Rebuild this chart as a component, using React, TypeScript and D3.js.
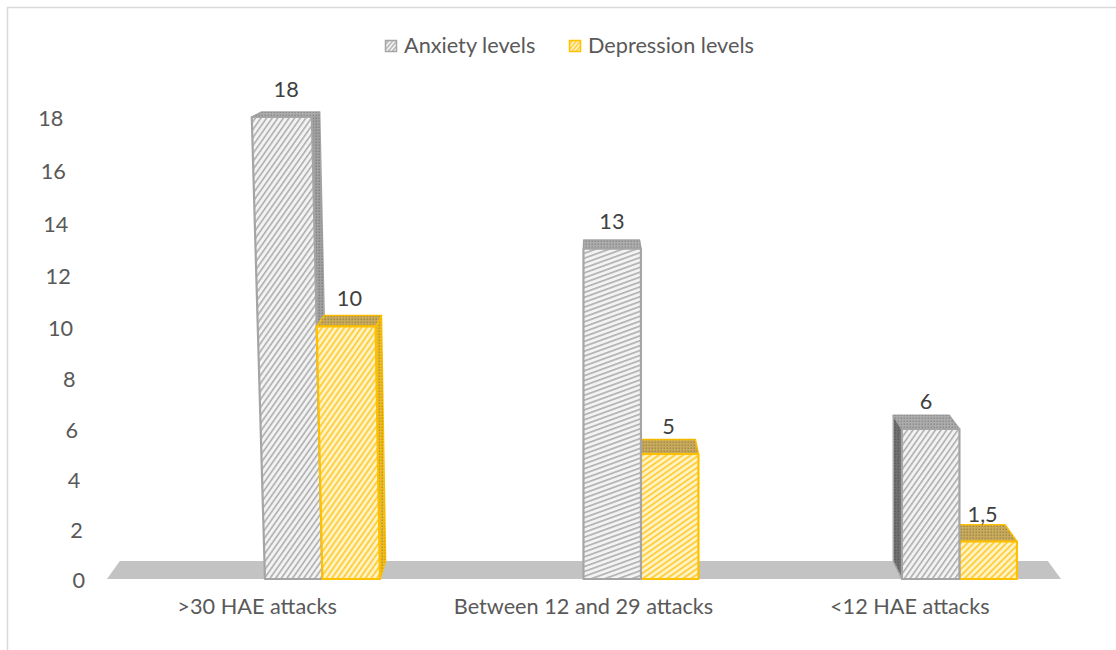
import React from 'react';
import * as d3 from 'd3';

// ---------- data ----------
const categories = ['>30 HAE attacks', 'Between 12 and 29 attacks', '<12 HAE attacks'];
const seriesNames = ['Anxiety levels', 'Depression levels'];
const anxietyValues = [18, 13, 6];
const depressionValues = [10, 5, 1.5];
const yTicks = [0, 2, 4, 6, 8, 10, 12, 14, 16, 18];

// ---------- style ----------
const W = 1116;
const H = 650;
const BASE = 579;
const VP = { x: 592, y: -60 };
const DEPTH = 0.028;
const FONT = "Lato, 'Open Sans', sans-serif";
const FS = 21.7;
const TEXT = '#595959';
const seriesStyle = [
  { border: '#a5a5a5', bg: '#f3f3f3', stripe: '#b2b2b2', top: '#acacac', right: '#a0a0a0', left: '#707070' },
  { border: '#ffc000', bg: '#fff2c4', stripe: '#ffcc33', top: '#c8aa5c', right: '#e9bb2a', left: '#b98f10' },
];
// hatch rotation per category, per series
const hatchAngles = [[35, 35], [70, 55], [35, 45]];

const locale = d3.formatLocale({ decimal: ',', thousands: '.', grouping: [3], currency: ['', ''] });
const fmt = locale.format('~g');

const yScale = d3.scaleLinear().domain([0, 6, 12, 18]).range([BASE, 429, 275, 117]);
const xGroup = d3.scaleBand<string>().domain(categories).range([163.2, 1118.7]).paddingInner(0.639).paddingOuter(0.3195);
const xSeries = d3.scaleBand<string>().domain(seriesNames).range([0, xGroup.bandwidth()]);
const floorScale = d3.scaleBand<string>().domain(categories).range([107, 1061]);
const labelScale = d3.scaleBand<string>().domain(categories).range([94, 1073]);
const leanScale = d3.scaleLinear().domain([75, 290, 560]).range([0.048, 0.026, 0]).clamp(true);

function P(x: number, y: number, z: number): [number, number] {
  const s = 1 - z;
  let sx = VP.x + (x - VP.x) * s;
  const sy = VP.y + (y - VP.y) * s;
  sx -= leanScale(sx) * (BASE - sy);
  return [sx, sy];
}
const poly = (pts: [number, number][]) => pts.map((p) => p[0].toFixed(2) + ',' + p[1].toFixed(2)).join(' ');

export default function App() {
  const values = [anxietyValues, depressionValues];
  const bars: any[] = [];
  categories.forEach((c, ci) => {
    seriesNames.forEach((s, si) => {
      const v = values[si][ci];
      const x0 = (xGroup(c) as number) + (xSeries(s) as number);
      const x1 = x0 + xSeries.bandwidth();
      bars.push({ c, ci, s, si, v, x0, x1, yt: yScale(v) });
    });
  });
  const order = [...bars].sort(
    (a, b) => Math.abs((b.x0 + b.x1) / 2 - VP.x) - Math.abs((a.x0 + a.x1) / 2 - VP.x)
  );

  const fl0 = floorScale.range()[0];
  const fl1 = floorScale.range()[1];
  const floorPts = [P(fl0, BASE, 0), P(fl1, BASE, 0), P(fl1, BASE, DEPTH), P(fl0, BASE, DEPTH)];

  return (
    <svg width={W} height={H} style={{ position: 'absolute', left: 0, top: 0, display: 'block', background: '#fff' }}>
      <defs>
        {categories.map((c, ci) =>
          seriesNames.map((s, si) => (
            <pattern
              key={`h${ci}${si}`}
              id={`hatch-${ci}-${si}`}
              patternUnits="userSpaceOnUse"
              width={4.6}
              height={10}
              patternTransform={`rotate(${hatchAngles[ci][si]})`}
            >
              <rect width={4.6} height={10} fill={seriesStyle[si].bg} />
              <rect width={1.7} height={10} fill={seriesStyle[si].stripe} />
            </pattern>
          ))
        )}
        {seriesNames.map((s, si) => (
          <pattern key={`l${si}`} id={`leg-${si}`} patternUnits="userSpaceOnUse" width={3.2} height={10} patternTransform="rotate(40)">
            <rect width={3.2} height={10} fill={seriesStyle[si].bg} />
            <rect width={1.4} height={10} fill={seriesStyle[si].stripe} />
          </pattern>
        ))}
        <pattern id="dots" patternUnits="userSpaceOnUse" width={3} height={3}>
          <rect x={0.6} y={0.6} width={1.2} height={1.2} fill="rgba(0,0,0,0.28)" />
        </pattern>
      </defs>

      {/* chart frame */}
      <rect x={7.5} y={7.5} width={1300} height={800} fill="none" stroke="#d9d9d9" strokeWidth={1.5} />

      {/* floor */}
      <polygon points={poly(floorPts)} fill="#c3c3c3" />

      {/* bars */}
      {order.map((b) => {
        const st = seriesStyle[b.si];
        const { x0, x1, yt } = b;
        const front = [P(x0, BASE, 0), P(x1, BASE, 0), P(x1, yt, 0), P(x0, yt, 0)];
        const top = [P(x0, yt, 0), P(x1, yt, 0), P(x1, yt, DEPTH), P(x0, yt, DEPTH)];
        let side: [number, number][] | null = null;
        let sideFill = st.right;
        if (x1 < VP.x) {
          side = [P(x1, BASE, 0), P(x1, yt, 0), P(x1, yt, DEPTH), P(x1, BASE, DEPTH)];
          sideFill = st.right;
        } else if (x0 > VP.x) {
          side = [P(x0, BASE, 0), P(x0, yt, 0), P(x0, yt, DEPTH), P(x0, BASE, DEPTH)];
          sideFill = st.left;
        }
        return (
          <g key={`${b.ci}-${b.si}`}>
            {side && (
              <g>
                <polygon points={poly(side)} fill={sideFill} stroke={st.border} strokeWidth={1.5} strokeLinejoin="round" />
                <polygon points={poly(side)} fill="url(#dots)" />
              </g>
            )}
            <polygon points={poly(top)} fill={st.top} stroke={st.border} strokeWidth={1.5} strokeLinejoin="round" />
            <polygon points={poly(top)} fill="url(#dots)" />
            <polygon
              points={poly(front)}
              fill={`url(#hatch-${b.ci}-${b.si})`}
              stroke={st.border}
              strokeWidth={2.2}
              strokeLinejoin="round"
            />
          </g>
        );
      })}

      {/* data labels */}
      {bars.map((b) => {
        const p = P((b.x0 + b.x1) / 2, b.yt, DEPTH / 2);
        return (
          <text key={`dl${b.ci}${b.si}`} x={p[0]} y={b.yt - 20} textAnchor="middle" fontFamily={FONT} fontSize={FS} fill="#404040">
            {fmt(b.v)}
          </text>
        );
      })}

      {/* y axis labels */}
      {yTicks.map((t) => {
        const y = yScale(t) + 1.5;
        const x = 85 - leanScale(85) * (BASE - y);
        return (
          <text key={`yt${t}`} x={x} y={y} dy="0.36em" textAnchor="end" fontFamily={FONT} fontSize={FS} fill={TEXT}>
            {t}
          </text>
        );
      })}

      {/* category labels */}
      {categories.map((c) => (
        <text
          key={`cl${c}`}
          x={(labelScale(c) as number) + labelScale.bandwidth() / 2}
          y={614}
          textAnchor="middle"
          fontFamily={FONT}
          fontSize={FS}
          fill={TEXT}
        >
          {c}
        </text>
      ))}

      {/* legend */}
      {seriesNames.map((s, si) => {
        const lx = [385, 569][si];
        return (
          <g key={`lg${si}`}>
            <rect x={lx + 0.5} y={40.5} width={11} height={11} fill={`url(#leg-${si})`} stroke={seriesStyle[si].border} strokeWidth={1.5} />
            <text x={lx + 19} y={53} fontFamily={FONT} fontSize={FS} fill={TEXT}>
              {s}
            </text>
          </g>
        );
      })}
    </svg>
  );
}
